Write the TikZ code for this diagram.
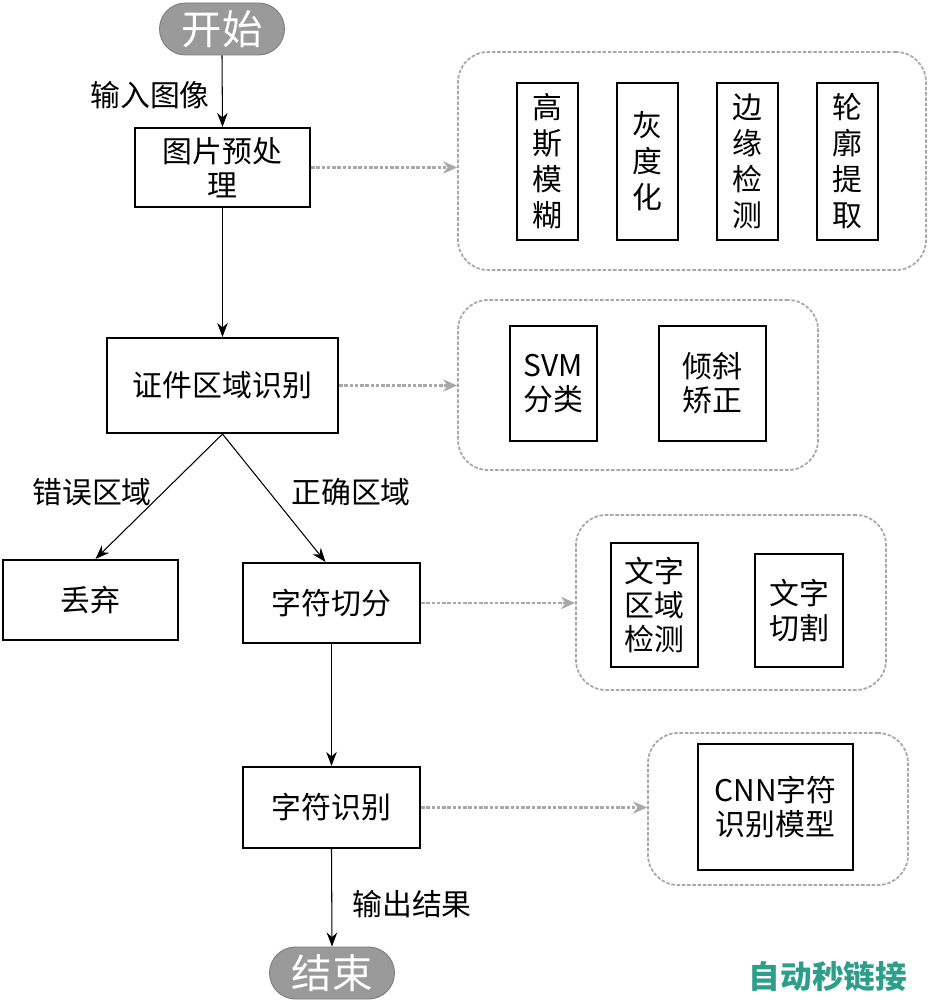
\documentclass[tikz,border=0pt]{standalone}
\usepackage{fontspec}
\setmainfont{Noto Sans CJK SC}
\usetikzlibrary{arrows.meta,shapes.misc}
\definecolor{pillgray}{HTML}{9A9A9A}
\definecolor{dashgray}{HTML}{A8A8A8}
\definecolor{wmteal}{HTML}{2E9E8C}
\tikzset{
  x=0.02cm, y=-0.02cm,
  procbox/.style={draw=black, line width=1.2pt, align=center, inner sep=0pt, font=\fontsize{17}{19.5}\selectfont},
  subbox/.style={draw=black, line width=1.2pt, align=center, inner sep=0pt, font=\fontsize{17}{19.5}\selectfont},
  vbox/.style={subbox, font=\fontsize{17}{20.5}\selectfont},
  pill/.style={rounded rectangle, fill=pillgray, draw=pillgray!80!black, line width=0.5pt, text=white, inner sep=0pt, font=\fontsize{23}{26}\selectfont},
  groupbox/.style={draw=dashgray, dash pattern=on 2pt off 1pt, line width=1pt, rounded corners=0.6cm},
  flow/.style={-{Stealth[length=8pt,width=6pt]}, line width=0.6pt, black},
  dflow/.style={-{Stealth[length=8pt,width=7pt]}, draw=dashgray, dash pattern=on 2pt off 1pt, line width=1.2pt},
  lbl/.style={font=\fontsize{17}{20}\selectfont, inner sep=0pt},
}
\begin{document}
\begin{tikzpicture}
\useasboundingbox (0,0) rectangle (928,1000);
% start / end
\node[pill, minimum width=125*0.02cm, minimum height=52*0.02cm] (start) at (222,29) {开始};
\node[pill, minimum width=125*0.02cm, minimum height=52*0.02cm] (stop) at (332,973) {结束};
% main boxes
\node[procbox, minimum width=175*0.02cm, minimum height=79*0.02cm] (pre) at (222.5,167.5) {图片预处\\理};
\node[procbox, minimum width=231*0.02cm, minimum height=95*0.02cm] (reg) at (222.5,385.5) {证件区域识别};
\node[procbox, minimum width=175*0.02cm, minimum height=80*0.02cm] (drop) at (90.5,600) {丢弃};
\node[procbox, minimum width=177*0.02cm, minimum height=80*0.02cm] (seg) at (331.5,603) {字符切分};
\node[procbox, minimum width=177*0.02cm, minimum height=81*0.02cm] (rec) at (331.5,807.5) {字符识别};
% group 1
\node[groupbox, minimum width=468*0.02cm, minimum height=218*0.02cm] (g1) at (692,161) {};
\node[vbox, minimum width=61*0.02cm, minimum height=157*0.02cm] (s11) at (547.5,161.5) {高\\斯\\模\\糊};
\node[vbox, minimum width=61*0.02cm, minimum height=157*0.02cm] (s12) at (647.5,161.5) {灰\\度\\化};
\node[vbox, minimum width=61*0.02cm, minimum height=157*0.02cm] (s13) at (747.5,161.5) {边\\缘\\检\\测};
\node[vbox, minimum width=61*0.02cm, minimum height=157*0.02cm] (s14) at (847.5,161.5) {轮\\廓\\提\\取};
% group 2
\node[groupbox, minimum width=360*0.02cm, minimum height=170*0.02cm] (g2) at (638,385) {};
\node[subbox, minimum width=87*0.02cm, minimum height=115*0.02cm] (s21) at (553.5,383.5) {SVM\\分类};
\node[subbox, minimum width=107*0.02cm, minimum height=115*0.02cm] (s22) at (712.5,383.5) {倾斜\\矫正};
% group 3
\node[groupbox, minimum width=310*0.02cm, minimum height=175*0.02cm] (g3) at (731,602.5) {};
\node[subbox, minimum width=87*0.02cm, minimum height=124*0.02cm] (s31) at (654.5,605) {文字\\区域\\检测};
\node[subbox, minimum width=88*0.02cm, minimum height=113*0.02cm] (s32) at (799,610.5) {文字\\切割};
% group 4
\node[groupbox, minimum width=260*0.02cm, minimum height=152*0.02cm] (g4) at (778,809) {};
\node[subbox, minimum width=155*0.02cm, minimum height=126*0.02cm] (s41) at (775.5,807) {CNN字符\\识别模型};
% flow arrows
\draw[flow] (start.south) -- (pre.north);
\draw[flow] (pre.south) -- (reg.north);
\draw[flow] (reg.south) -- ([xshift=5*0.02cm]drop.north);
\draw[flow] (reg.south) -- ([xshift=-6*0.02cm]seg.north);
\draw[flow] (seg.south) -- (rec.north);
\draw[flow] (rec.south) -- (stop.north);
% dashed arrows
\draw[dflow] (pre.east) -- (g1.west |- pre.east);
\draw[dflow] (reg.east) -- (g2.west |- reg.east);
\draw[dflow] (seg.east) -- (g3.west |- seg.east);
\draw[dflow] (rec.east) -- (g4.west |- rec.east);
% labels
\node[lbl] (l1) at (150,95) {输入图像};
\node[lbl] (l2) at (92,492) {错误区域};
\node[lbl] (l3) at (351,492) {正确区域};
\node[lbl] (l4) at (412,904) {输出结果};
% watermark
\node[font=\fontsize{18}{20}\selectfont\bfseries, text=wmteal, inner sep=0pt] (wm) at (828,976) {自动秒链接};
\end{tikzpicture}
\end{document}
